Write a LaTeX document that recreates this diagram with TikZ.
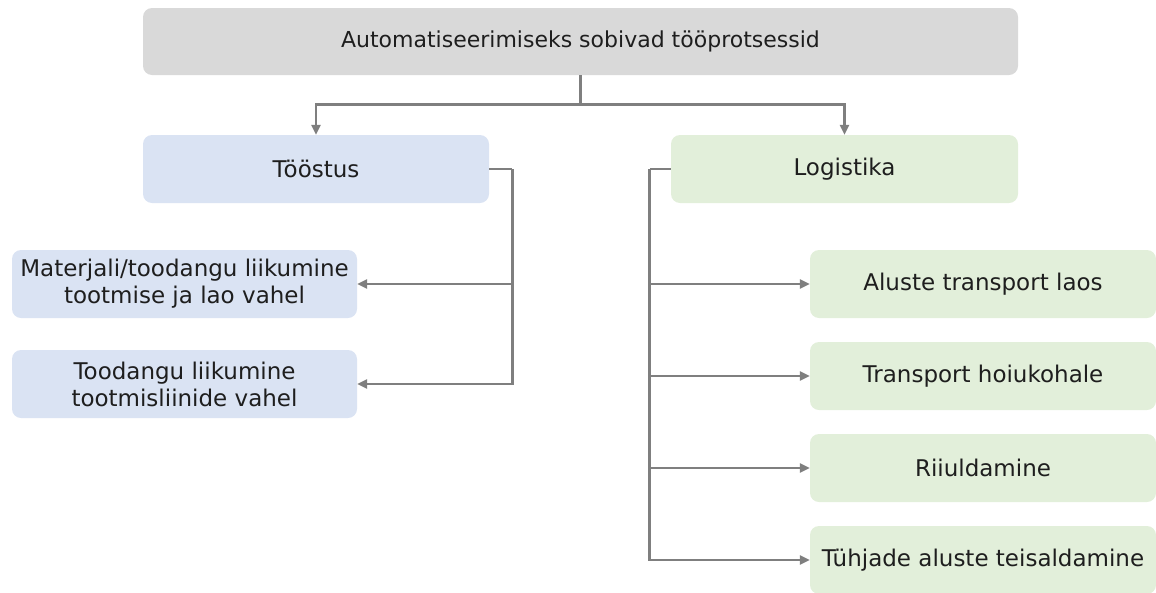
\documentclass[tikz,border=0pt]{standalone}
\usepackage{fontspec}
\setmainfont{DejaVu Sans}
\usetikzlibrary{arrows.meta}
\definecolor{boxgray}{HTML}{D9D9D9}
\definecolor{boxblue}{HTML}{DAE3F3}
\definecolor{boxgreen}{HTML}{E2EFDA}
\definecolor{linegray}{HTML}{7F7F7F}
\definecolor{txt}{HTML}{1E1E1E}
\begin{document}
\begin{tikzpicture}[x=1pt,y=-1pt,
  box/.style={rounded corners=9pt, inner sep=0pt, text=txt,
    font=\fontsize{23}{27}\selectfont, align=center},
  graybox/.style={box, fill=boxgray, font=\fontsize{22}{26}\selectfont},
  bluebox/.style={box, fill=boxblue},
  greenbox/.style={box, fill=boxgreen},
  link/.style={draw=linegray, line width=2.8pt},
  arr/.style={link, -{Triangle[length=10pt,width=9pt]}}]
\useasboundingbox (0,0) rectangle (1156,592);
\node[graybox, minimum width=875pt, minimum height=67pt] (top) at (580.5,41.5) {Automatiseerimiseks sobivad tööprotsessid};
\node[bluebox, minimum width=346pt, minimum height=68pt] (ind) at (316,169) {Tööstus};
\node[greenbox, minimum width=347pt, minimum height=68pt] (log) at (844.5,169) {Logistika};
\node[bluebox, minimum width=345pt, minimum height=68pt] (mat) at (184.5,284) {Materjali/toodangu liikumine\\tootmise ja lao vahel};
\node[bluebox, minimum width=345pt, minimum height=68pt] (tood) at (184.5,384) {Toodangu liikumine\\tootmisliinide vahel};
\node[greenbox, minimum width=346pt, minimum height=68pt] (r1) at (983,284) {Aluste transport laos};
\node[greenbox, minimum width=346pt, minimum height=68pt] (r2) at (983,376) {Transport hoiukohale};
\node[greenbox, minimum width=346pt, minimum height=68pt] (r3) at (983,468) {Riiuldamine};
\node[greenbox, minimum width=346pt, minimum height=68pt] (r4) at (983,560) {Tühjade aluste teisaldamine};
\draw[link] (top.south) -- ++(0,29) coordinate (j1);
\draw[arr] (j1) -| (ind.north);
\draw[arr] (j1) -| (log.north);
\draw[link] (ind.east) -- ++(23,0) coordinate (jl);
\draw[arr] (jl) |- (mat.east);
\draw[arr] (jl) |- (tood.east);
\draw[link] (log.west) -- ++(-21,0) coordinate (jr);
\draw[arr] (jr) |- (r1.west);
\draw[arr] (jr) |- (r2.west);
\draw[arr] (jr) |- (r3.west);
\draw[arr] (jr) |- (r4.west);
\end{tikzpicture}
\end{document}
